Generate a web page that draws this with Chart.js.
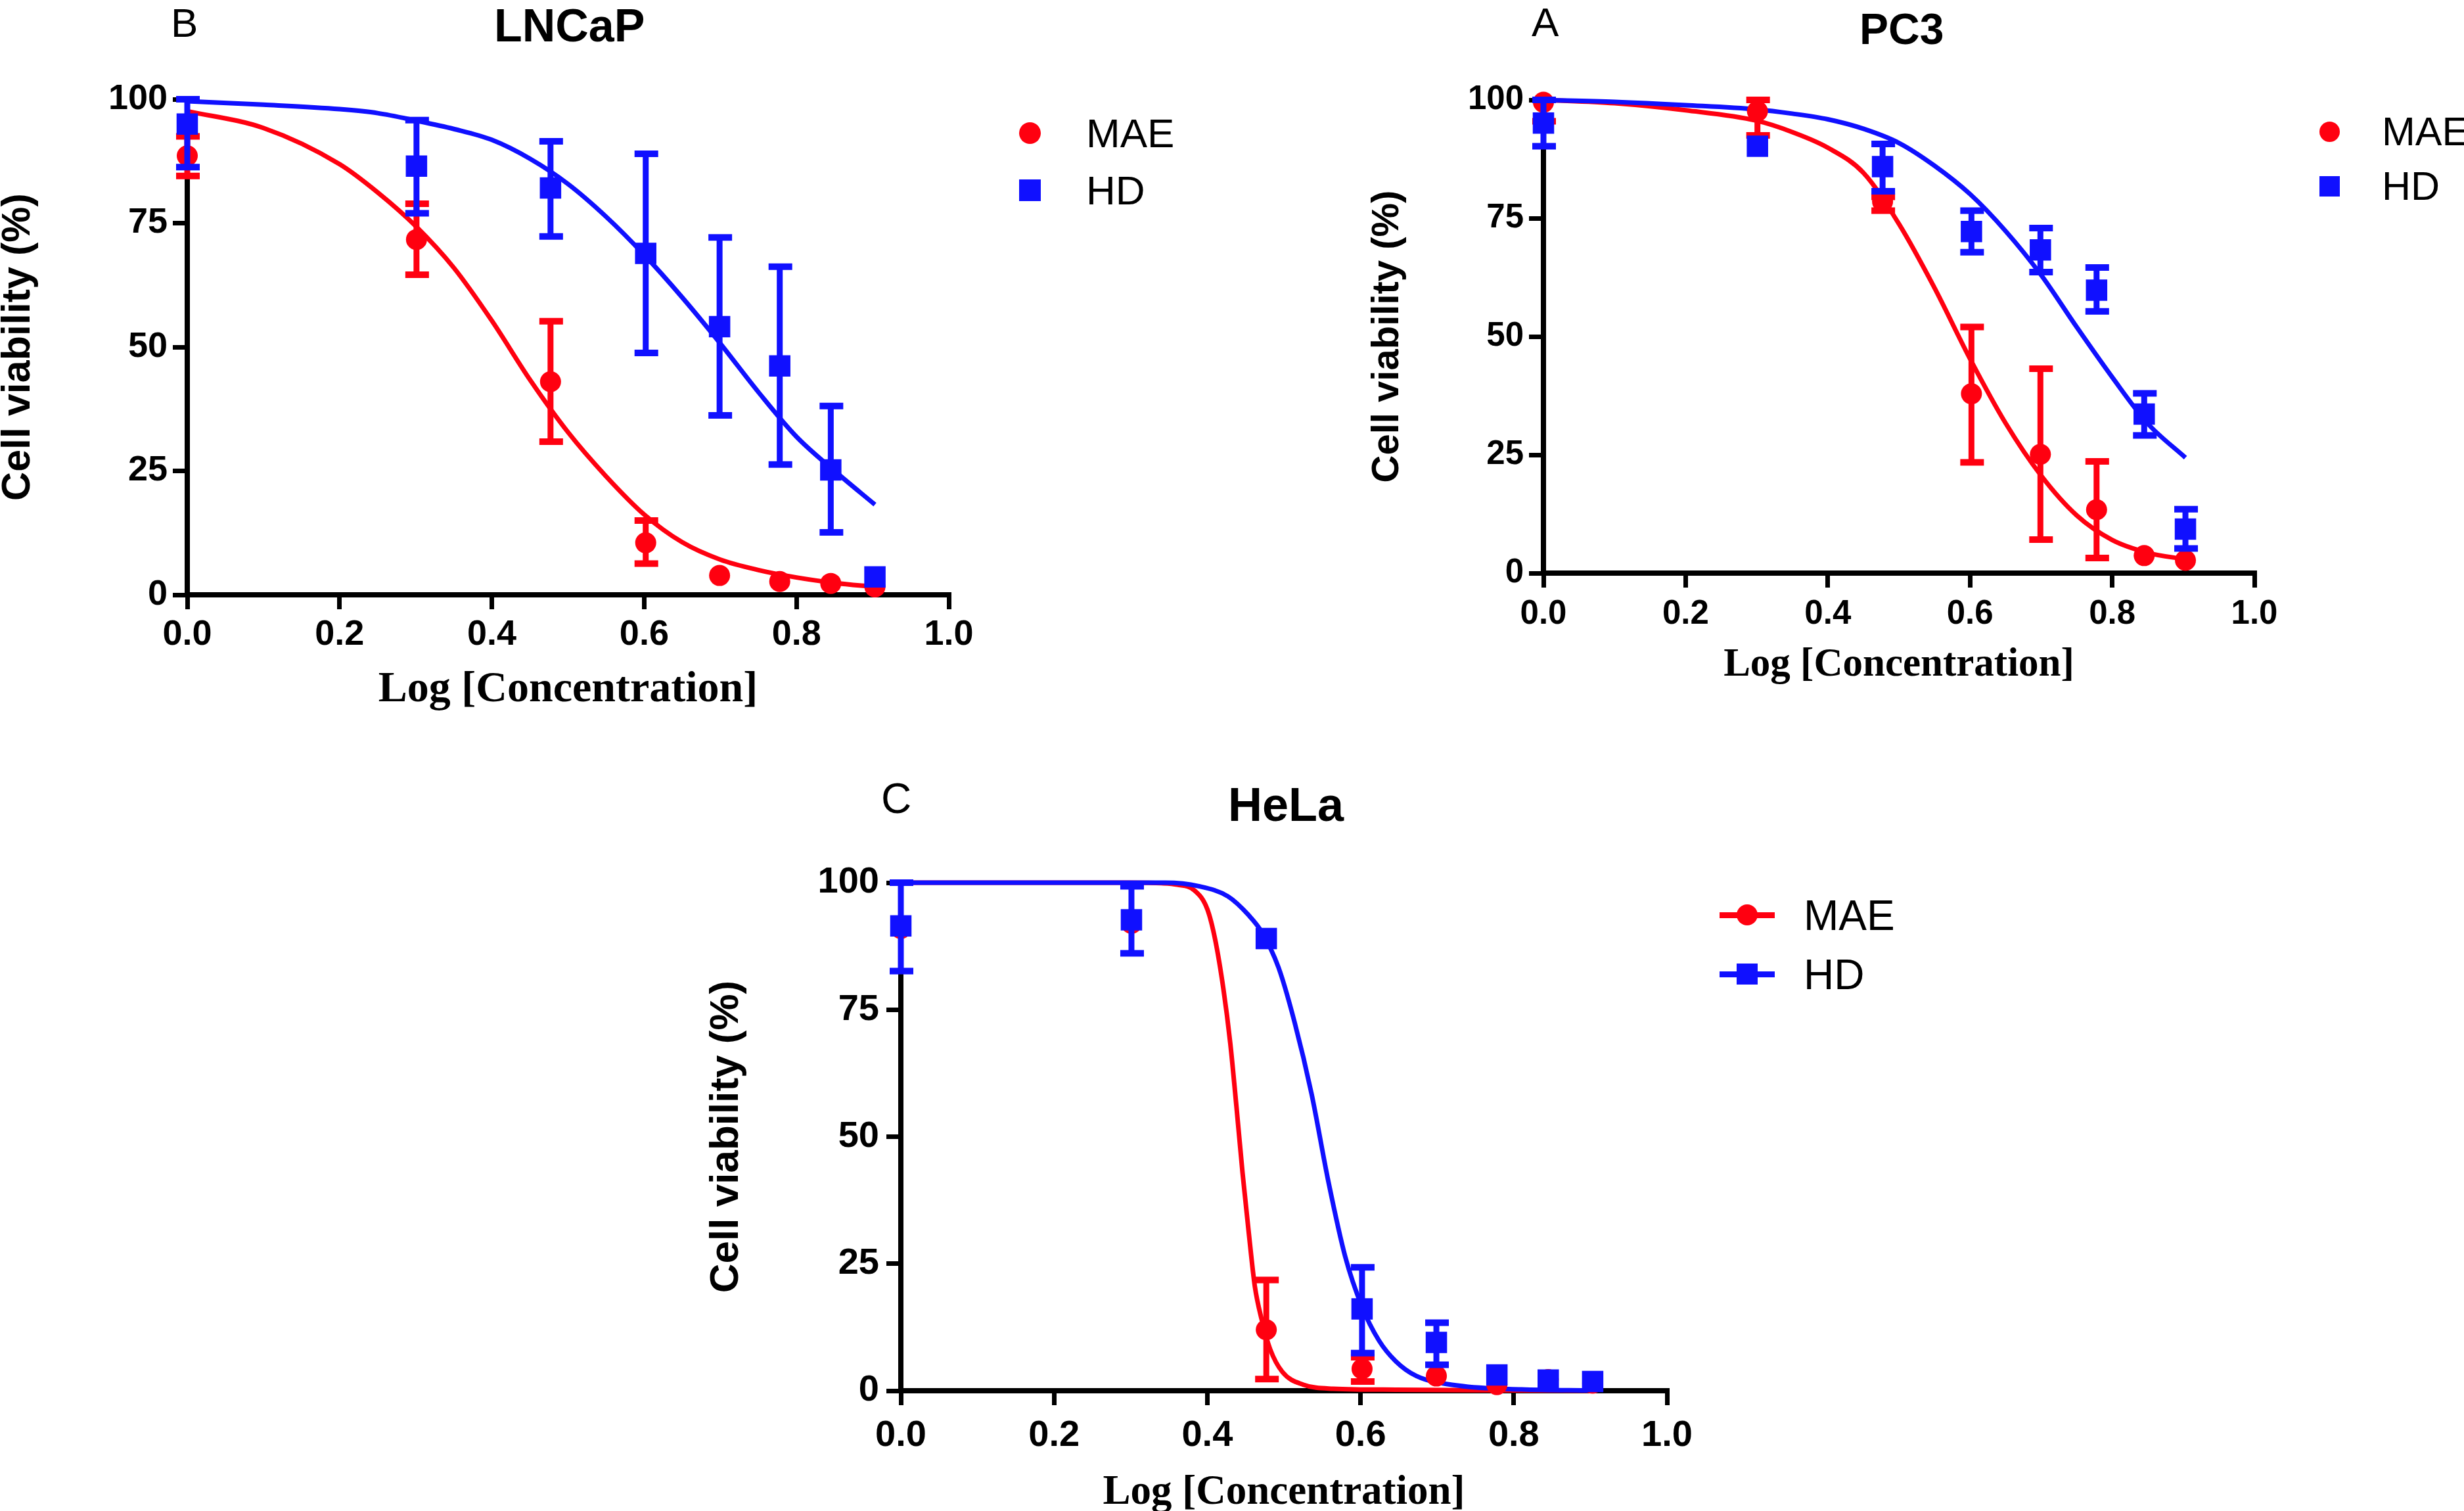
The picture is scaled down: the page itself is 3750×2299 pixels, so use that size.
<!DOCTYPE html>
<html>
<head>
<meta charset="utf-8">
<title>Cell viability</title>
<script src="https://cdn.jsdelivr.net/npm/chart.js@4.4.1/dist/chart.umd.min.js"></script>
<style>
  html, body { margin: 0; padding: 0; background: #fff; }
  body { position: relative; width: 3750px; height: 2299px; overflow: hidden;
         font-family: "Liberation Sans", Arial, sans-serif; color: #000; }
  canvas { position: absolute; }
  .txt { position: absolute; line-height: 1; white-space: nowrap; }
  .mk { position: absolute; }
</style>
</head>
<body>
<script>
const logConc = [0, 0.301, 0.477, 0.602, 0.699, 0.778, 0.845, 0.903];
const xTickStep = 0.2;
const yTickStep = 25;
const seriesNames = ["MAE", "HD"];
const panelNames = ["LNCaP", "PC3", "HeLa"];

// LNCaP
const lncapMae = [88.6, 71.7, 43.0, 10.5, 3.9, 2.7, 2.3, 1.6];
const lncapMaeLo = [84.5, 64.6, 30.9, 6.3, null, null, null, null];
const lncapMaeHi = [92.5, 78.9, 55.2, 15.0, null, null, null, null];
const lncapHd = [95.0, 86.5, 82.1, 68.9, 54.1, 46.2, 25.2, 3.6];
const lncapHdLo = [86.3, 77.0, 72.3, 48.8, 36.2, 26.3, 12.6, null];
const lncapHdHi = [100, 95.8, 91.5, 89.0, 72.1, 66.2, 38.1, null];
const lncapFitX = [0, 0.1, 0.2, 0.25, 0.3, 0.35, 0.4, 0.45, 0.5, 0.55, 0.6, 0.65, 0.7, 0.75, 0.8, 0.85, 0.903];
const lncapMaeFit = [97.6, 94.2, 86.9, 81.2, 74.4, 66.0, 55.3, 43.4, 32.8, 23.9, 16.2, 10.6, 7.1, 5.0, 3.5, 2.4, 1.6];
const lncapHdFit = [99.6, 98.9, 98.0, 97.2, 95.7, 94.0, 91.8, 88.0, 82.9, 76.3, 68.6, 60.0, 50.7, 40.9, 31.9, 25.0, 18.2];

// PC3
const pc3Mae = [99.5, 97.6, 78.5, 37.9, 25.1, 13.4, 3.7, 2.7];
const pc3MaeLo = [95.5, 92.5, 76.6, 23.4, 7.1, 3.2, null, null];
const pc3MaeHi = [100, 100, 79.5, 52.0, 43.2, 23.6, null, null];
const pc3Hd = [95.1, 90.2, 85.9, 72.2, 68.3, 59.8, 33.6, 9.3];
const pc3HdLo = [90.2, null, 80.7, 67.8, 63.6, 55.3, 29.1, 5.2];
const pc3HdHi = [100, null, 90.7, 76.6, 72.9, 64.6, 38.0, 13.5];
const pc3FitX = [0, 0.1, 0.2, 0.3, 0.35, 0.4, 0.45, 0.5, 0.55, 0.6, 0.65, 0.7, 0.75, 0.8, 0.85, 0.903];
const pc3MaeFit = [100, 99.3, 97.8, 95.6, 93.2, 89.9, 84.6, 73.8, 60.3, 45.3, 31.7, 20.6, 12.2, 7.0, 4.3, 2.9];
const pc3HdFit = [100, 99.6, 98.9, 98.0, 97.1, 95.9, 93.9, 90.9, 86.1, 80.1, 72.3, 63.0, 52.0, 41.4, 31.6, 24.4];

// HeLa
const helaMae = [91.0, 92.0, 12.0, 4.3, 2.9, 1.2, 2.2, 1.5];
const helaMaeLo = [null, null, 2.3, 1.8, null, null, null, null];
const helaMaeHi = [null, null, 21.8, 6.6, null, null, null, null];
const helaHd = [91.5, 92.7, 89.0, 16.1, 9.5, 3.1, 2.1, 1.8];
const helaHdLo = [82.6, 86.1, null, 7.4, 5.1, null, null, null];
const helaHdHi = [100, 99.3, null, 24.3, 13.4, null, null, null];
const helaMaeFitX = [0, 0.2, 0.3, 0.34, 0.361, 0.383, 0.4, 0.41, 0.421, 0.43, 0.438, 0.446, 0.454, 0.462, 0.471, 0.482, 0.498, 0.525, 0.564, 0.646, 0.75, 0.903];
const helaMaeFit = [100, 100, 100, 99.9, 99.6, 98.5, 94.8, 89.0, 79.1, 68.4, 56.0, 42.9, 31.3, 20.6, 14.0, 8.2, 3.7, 1.2, 0.4, 0.2, 0.1, 0];
const helaHdFitX = [0, 0.2, 0.3, 0.345, 0.389, 0.427, 0.454, 0.471, 0.493, 0.514, 0.536, 0.558, 0.58, 0.602, 0.624, 0.646, 0.673, 0.728, 0.81, 0.903];
const helaHdFit = [100, 100, 100, 100, 99.3, 97.3, 93.6, 90.3, 83.3, 72.5, 58.5, 41.2, 26.4, 16.5, 9.9, 5.8, 2.9, 1.0, 0.25, 0.05];

const RED = "#ff0010";
const BLUE = "#1010ff";
const SANS = '"Liberation Sans", Arial, sans-serif';
const SERIF = '"Liberation Serif", "Times New Roman", serif';
const Y_W = 300;
const PAD_T = 60;
const PAD_R = 60;

Chart.defaults.font.family = SANS;
Chart.defaults.color = "#000";

function toPoints(xs, ys) {
  return xs.map((x, i) => ({ x, y: ys[i] }));
}

// error bars drawn just under their own markers
const errorBars = {
  id: "errorBars",
  beforeDatasetDraw(chart, args) {
    const ds = chart.data.datasets[args.index];
    if (!ds.errLo) return;
    const ctx = chart.ctx;
    const xs = chart.scales.x;
    const ys = chart.scales.y;
    ctx.save();
    ctx.strokeStyle = ds.pointBackgroundColor;
    ctx.lineCap = "butt";
    ds.data.forEach((pt, i) => {
      const lo = ds.errLo[i];
      const hi = ds.errHi[i];
      if (lo == null || hi == null) return;
      const px = xs.getPixelForValue(pt.x);
      const yLo = ys.getPixelForValue(lo);
      const yHi = ys.getPixelForValue(hi);
      ctx.lineWidth = 9;
      ctx.beginPath();
      ctx.moveTo(px, yLo);
      ctx.lineTo(px, yHi);
      ctx.stroke();
      ctx.lineWidth = 10;
      ctx.beginPath();
      ctx.moveTo(px - 17, yLo);
      ctx.lineTo(px + 19, yLo);
      ctx.moveTo(px - 17, yHi);
      ctx.lineTo(px + 19, yHi);
      ctx.stroke();
    });
    ctx.restore();
  }
};

function buildPanel(p) {
  const w = Y_W + (p.right - p.left) + PAD_R;
  const h = PAD_T + (p.bottom - p.top) + p.xh;
  const cv = document.createElement("canvas");
  cv.width = w;
  cv.height = h;
  cv.style.left = (p.left - Y_W) + "px";
  cv.style.top = (p.top - PAD_T) + "px";
  cv.style.width = w + "px";
  cv.style.height = h + "px";
  document.body.appendChild(cv);

  const tickFont = { family: SANS, size: p.tick, weight: "bold" };

  new Chart(cv, {
    type: "scatter",
    data: {
      datasets: [
        {
          label: seriesNames[1],
          data: toPoints(logConc, p.hd),
          errLo: p.hdLo,
          errHi: p.hdHi,
          pointStyle: "rect",
          pointRadius: 23,
          pointBorderWidth: 0,
          pointBackgroundColor: BLUE,
          clip: false,
          order: 0
        },
        {
          label: seriesNames[0],
          data: toPoints(logConc, p.mae),
          errLo: p.maeLo,
          errHi: p.maeHi,
          pointStyle: "circle",
          pointRadius: 16,
          pointBorderWidth: 0,
          pointBackgroundColor: RED,
          clip: false,
          order: 1
        },
        {
          type: "line",
          data: toPoints(p.hdFitX, p.hdFit),
          borderColor: BLUE,
          borderWidth: 7,
          pointRadius: 0,
          cubicInterpolationMode: "monotone",
          fill: false,
          clip: false,
          order: 2
        },
        {
          type: "line",
          data: toPoints(p.maeFitX, p.maeFit),
          borderColor: RED,
          borderWidth: 7,
          pointRadius: 0,
          cubicInterpolationMode: "monotone",
          fill: false,
          clip: false,
          order: 3
        }
      ]
    },
    options: {
      responsive: false,
      animation: false,
      devicePixelRatio: 1,
      events: [],
      layout: { padding: { left: 0, top: PAD_T, right: PAD_R, bottom: 0 } },
      plugins: { legend: { display: false }, tooltip: { enabled: false } },
      scales: {
        x: {
          type: "linear",
          min: 0,
          max: 1,
          afterFit: (s) => { s.height = p.xh; },
          ticks: {
            stepSize: xTickStep,
            color: "#000",
            font: tickFont,
            padding: p.xTickPad,
            maxRotation: 0,
            autoSkip: false,
            callback: (v) => Number(v).toFixed(1)
          },
          grid: { drawOnChartArea: false, drawTicks: true, tickLength: 22, lineWidth: 7, color: "#000" },
          border: { display: true, width: 8, color: "#000" },
          title: {
            display: true,
            text: "Log [Concentration]",
            color: "#000",
            font: { family: SERIF, size: p.xTitle, weight: "bold", lineHeight: 1 },
            padding: { top: 0, bottom: p.xTitlePad }
          }
        },
        y: {
          type: "linear",
          min: 0,
          max: 100,
          afterFit: (s) => { s.width = Y_W; },
          ticks: {
            stepSize: yTickStep,
            color: "#000",
            font: tickFont,
            padding: p.yTickPad
          },
          grid: { drawOnChartArea: false, drawTicks: true, tickLength: 22, lineWidth: 7, color: "#000" },
          border: { display: true, width: 8, color: "#000" },
          title: {
            display: true,
            text: "Cell viability (%)",
            color: "#000",
            font: { family: SANS, size: p.yTitle, weight: "bold", lineHeight: 1 },
            padding: { top: p.yTitlePad, bottom: 0 }
          }
        }
      }
    },
    plugins: [errorBars]
  });
}

function addText(str, left, baseline, size, weight) {
  const d = document.createElement("div");
  d.className = "txt";
  d.textContent = str;
  d.style.left = left + "px";
  d.style.top = (baseline - 0.8465 * size) + "px";
  d.style.fontSize = size + "px";
  d.style.fontWeight = weight;
  document.body.appendChild(d);
}

function addBox(cx, cy, w, h, color, round) {
  const d = document.createElement("div");
  d.className = "mk";
  d.style.left = (cx - w / 2) + "px";
  d.style.top = (cy - h / 2) + "px";
  d.style.width = w + "px";
  d.style.height = h + "px";
  d.style.background = color;
  if (round) d.style.borderRadius = "50%";
  document.body.appendChild(d);
}

function addLegend(lg) {
  if (lg.line) {
    addBox(lg.x, lg.y1, lg.line, 9, RED, false);
    addBox(lg.x, lg.y2, lg.line, 9, BLUE, false);
  }
  addBox(lg.x, lg.y1, lg.size, lg.size, RED, true);
  addBox(lg.x, lg.y2, lg.size, lg.size, BLUE, false);
  addText(seriesNames[0], lg.textX, lg.y1 + lg.font * 0.36, lg.font, 400);
  addText(seriesNames[1], lg.textX, lg.y2 + lg.font * 0.36, lg.font, 400);
}

buildPanel({
  left: 285, right: 1444, top: 151, bottom: 905, xh: 180,
  tick: 54, xTickPad: 7, yTickPad: 8,
  xTitle: 66, xTitlePad: 2, yTitle: 61, yTitlePad: 13,
  mae: lncapMae, maeLo: lncapMaeLo, maeHi: lncapMaeHi,
  hd: lncapHd, hdLo: lncapHdLo, hdHi: lncapHdHi,
  maeFitX: lncapFitX, maeFit: lncapMaeFit, hdFitX: lncapFitX, hdFit: lncapHdFit
});

buildPanel({
  left: 2349, right: 3431, top: 152, bottom: 872, xh: 180,
  tick: 51, xTickPad: 10, yTickPad: 8,
  xTitle: 61, xTitlePad: 9, yTitle: 58, yTitlePad: 34,
  mae: pc3Mae, maeLo: pc3MaeLo, maeHi: pc3MaeHi,
  hd: pc3Hd, hdLo: pc3HdLo, hdHi: pc3HdHi,
  maeFitX: pc3FitX, maeFit: pc3MaeFit, hdFitX: pc3FitX, hdFit: pc3HdFit
});

buildPanel({
  left: 1371, right: 2537, top: 1343, bottom: 2116, xh: 200,
  tick: 56, xTickPad: 13, yTickPad: 11,
  xTitle: 63, xTitlePad: 13, yTitle: 62, yTitlePad: 4,
  mae: helaMae, maeLo: helaMaeLo, maeHi: helaMaeHi,
  hd: helaHd, hdLo: helaHdLo, hdHi: helaHdHi,
  maeFitX: helaMaeFitX, maeFit: helaMaeFit, hdFitX: helaHdFitX, hdFit: helaHdFit
});

// panel letters and titles
addText("B", 260, 56, 62, 400);
addText(panelNames[0], 752, 63, 70, 700);
addText("A", 2331, 55, 62, 400);
addText(panelNames[1], 2830, 67, 66, 700);
addText("C", 1341, 1237, 64, 400);
addText(panelNames[2], 1869, 1249, 72, 700);

// legends
addLegend({ x: 1567, y1: 202, y2: 289, size: 33, textX: 1653, font: 62 });
addLegend({ x: 3545, y1: 200, y2: 283, size: 31, textX: 3625, font: 61 });
addLegend({ x: 2659, y1: 1392, y2: 1482, size: 32, line: 84, textX: 2745, font: 64 });
</script>
</body>
</html>
